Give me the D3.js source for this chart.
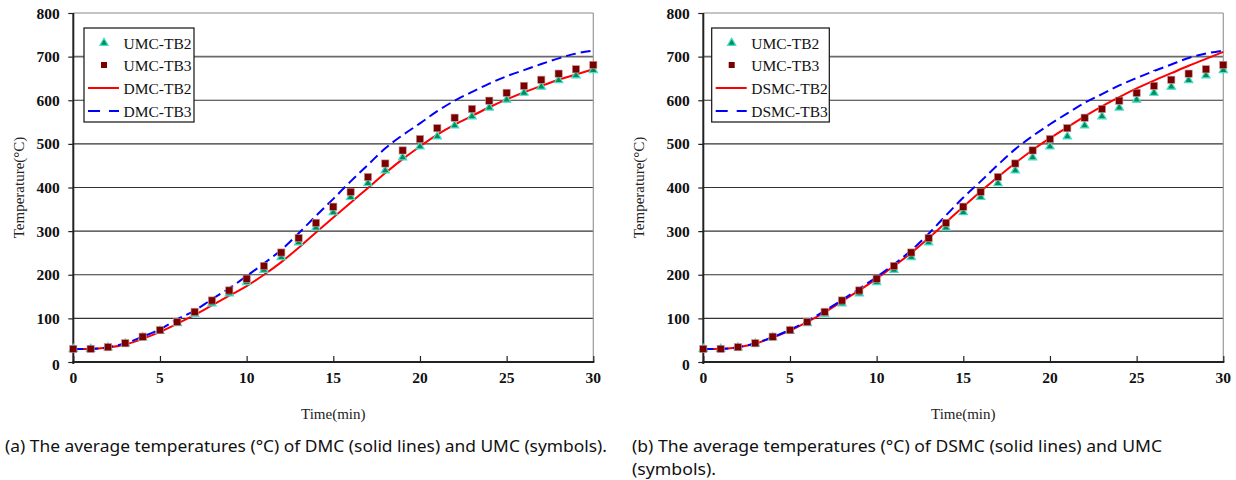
<!DOCTYPE html>
<html><head><meta charset="utf-8">
<script src="https://cdn.jsdelivr.net/npm/d3@7"></script>
<style>
html,body{margin:0;padding:0;background:#fff;}
svg{display:block;}
</style></head>
<body>
<svg id="c" width="1236" height="480"></svg>
<script>
const time = d3.range(0, 31);
const umcTB2 = [30,30,33,42,56,71,89,110,134,157,183,211,240,274,308,343,378,410,439,469,494,517,542,563,583,601,617,631,646,657,669];
const umcTB3 = [30,30,34,43,58,73,92,115,141,164,191,220,251,284,319,356,390,424,455,485,511,536,560,580,599,617,633,647,661,671,681];
const dmcTB2 = [30,30,33,40,53,69,88,108,130,152,174,200,229,262,297,331,365,399,433,465,494,521,544,564,584,602,618,633,647,659,671];
const dmcTB3 = [30,30,34,43,58,75,98,118,144,169,197,226,257,295,335,374,414,452,490,520,547,575,599,619,638,655,669,683,696,707,714];
const dsmcTB2 = [30,30,34,42,56,72,92,114,139,164,191,220,250,284,320,356,391,424,456,486,513,538,563,586,607,627,645,662,679,695,711];
const dsmcTB3 = [30,30,34,43,57,74,94,117,142,168,195,224,256,294,336,377,414,452,488,518,545,570,594,614,634,651,667,682,697,707,714];
const xTicks = [0,5,10,15,20,25,30];
const yTicks = [0,100,200,300,400,500,600,700,800];

const panels = [
  {x0:73.3, yTitleX:19, lines:[dmcTB2, dmcTB3], names:["UMC-TB2","UMC-TB3","DMC-TB2","DMC-TB3"], legX:84, legW:110,
   caption:["(a) The average temperatures (°C) of DMC (solid lines) and UMC (symbols)."], capX:5, capW:[602]},
  {x0:703.3, yTitleX:639, lines:[dsmcTB2, dsmcTB3], names:["UMC-TB2","UMC-TB3","DSMC-TB2","DSMC-TB3"], legX:711.7, legW:117.6,
   caption:["(b) The average temperatures (°C) of DSMC (solid lines) and UMC","(symbols)."], capX:632, capW:[530, 84]}
];

const svg = d3.select("#c");
const W = 520, yTop = 13, yBot = 362;
const serif = "'Liberation Serif','Times New Roman',serif";

panels.forEach(p => {
  const g = svg.append("g");
  const x = d3.scaleLinear().domain([0,30]).range([p.x0, p.x0 + W]);
  const y = d3.scaleLinear().domain([0,800]).range([yBot, yTop]);

  // gridlines
  yTicks.filter(v => v > 0).forEach(v => {
    g.append("line").attr("x1", x(0)).attr("x2", x(30)).attr("y1", y(v)).attr("y2", y(v))
      .attr("stroke", v === 800 ? "#8a8a8a" : (v === 700 ? "#6a6a6a" : "#333"))
      .attr("stroke-width", v === 700 ? 1.6 : 1.1);
  });
  // right border
  g.append("line").attr("x1", x(30)).attr("x2", x(30)).attr("y1", y(800)).attr("y2", y(0))
    .attr("stroke", "#9a9a9a").attr("stroke-width", 1.2);

  // axes
  const yAxis = d3.axisLeft(y).tickValues(yTicks).tickSize(5).tickFormat("");
  const ya = g.append("g").attr("transform", `translate(${x(0)},0)`).call(yAxis);
  ya.select(".domain").attr("stroke", "#222").attr("stroke-width", 2).attr("d", `M0,${yTop}V${yBot+2}`);
  ya.selectAll(".tick line").attr("stroke", "#222").attr("stroke-width", 1.2);

  const xAxis = d3.axisBottom(x).tickValues(xTicks).tickSize(-6).tickFormat("");
  const xa = g.append("g").attr("transform", `translate(0,${yBot})`).call(xAxis);
  xa.select(".domain").attr("stroke", "#222").attr("stroke-width", 2).attr("d", `M${x(0)-1},0H${x(30)+1}`);
  xa.selectAll(".tick line").attr("stroke", "#222").attr("stroke-width", 1.2);

  // tick labels
  yTicks.forEach(v => {
    g.append("text").attr("x", x(0) - 13.5).attr("y", y(v) + 5.5 + (v === 0 ? 2 : 0))
      .attr("text-anchor", "end").attr("font-family", serif).attr("font-weight", "bold")
      .attr("font-size", 15.5).attr("fill", "#111").text(v);
  });
  xTicks.forEach(v => {
    g.append("text").attr("x", x(v)).attr("y", yBot + 21)
      .attr("text-anchor", "middle").attr("font-family", serif).attr("font-weight", "bold")
      .attr("font-size", 15.5).attr("fill", "#111").text(v);
  });

  // axis titles
  g.append("text").attr("transform", `translate(${p.yTitleX + 5},${(yTop + yBot) / 2}) rotate(-90)`)
    .attr("text-anchor", "middle").attr("font-family", serif).attr("font-size", 15).attr("fill", "#222")
    .text("Temperature(°C)");
  g.append("text").attr("x", (x(0) + x(30)) / 2).attr("y", 419)
    .attr("text-anchor", "middle").attr("font-family", serif).attr("font-size", 15).attr("fill", "#222")
    .text("Time(min)");

  // lines
  const line = d3.line().x((d, i) => x(time[i])).y(d => y(d)).curve(d3.curveMonotoneX);
  g.append("path").datum(p.lines[0]).attr("d", line).attr("fill", "none")
    .attr("stroke", "#ff0000").attr("stroke-width", 2);
  g.append("path").datum(p.lines[1]).attr("d", line).attr("fill", "none")
    .attr("stroke", "#0000ff").attr("stroke-width", 2).attr("stroke-dasharray", "10,5");

  // markers
  const tri = d3.symbol().type(d3.symbolTriangle).size(30);
  g.selectAll(".tri").data(umcTB2).join("path").attr("class", "tri")
    .attr("transform", (d, i) => `translate(${x(time[i])},${y(d)})`).attr("d", tri)
    .attr("fill", "#0a8a50").attr("stroke", "#40e0d0").attr("stroke-width", 1.2);
  g.selectAll(".sq").data(umcTB3).join("rect").attr("class", "sq")
    .attr("x", (d, i) => x(time[i]) - 3.6).attr("y", d => y(d) - 3.6)
    .attr("width", 7.2).attr("height", 7.2)
    .attr("fill", "#7a0000").attr("stroke", "#c89090").attr("stroke-width", 0.6);

  // legend
  const leg = g.append("g");
  leg.append("rect").attr("x", p.legX).attr("y", 28).attr("width", p.legW).attr("height", 94)
    .attr("fill", "#fff").attr("stroke", "#111").attr("stroke-width", 1.2);
  const rows = [43, 65, 88, 111];
  const sx = p.legX + 20, lx0 = p.legX + 4, lx1 = p.legX + 35, tx = p.legX + 39.5;
  leg.append("path").attr("transform", `translate(${sx},${rows[0]})`).attr("d", tri)
    .attr("fill", "#0a8a50").attr("stroke", "#40e0d0").attr("stroke-width", 1.2);
  leg.append("rect").attr("x", sx - 3).attr("y", rows[1] - 3).attr("width", 6).attr("height", 6)
    .attr("fill", "#7a0000");
  leg.append("line").attr("x1", lx0).attr("x2", lx1).attr("y1", rows[2]).attr("y2", rows[2])
    .attr("stroke", "#ff0000").attr("stroke-width", 2);
  leg.append("line").attr("x1", lx0).attr("x2", lx1).attr("y1", rows[3]).attr("y2", rows[3])
    .attr("stroke", "#0000ff").attr("stroke-width", 2).attr("stroke-dasharray", "12,9");
  p.names.forEach((n, i) => {
    leg.append("text").attr("x", tx).attr("y", rows[i] + 5.5).attr("font-family", serif)
      .attr("font-size", 15.5).attr("fill", "#111").text(n);
  });

  // caption
  p.caption.forEach((c, i) => {
    g.append("text").attr("x", p.capX).attr("y", 452 + i * 23)
      .attr("font-family", "'Liberation Sans Narrow','Noto Sans',sans-serif").attr("font-size", 16.5)
      .attr("fill", "#111").attr("textLength", p.capW[i]).attr("lengthAdjust", "spacingAndGlyphs")
      .text(c);
  });
});
</script>
</body></html>
